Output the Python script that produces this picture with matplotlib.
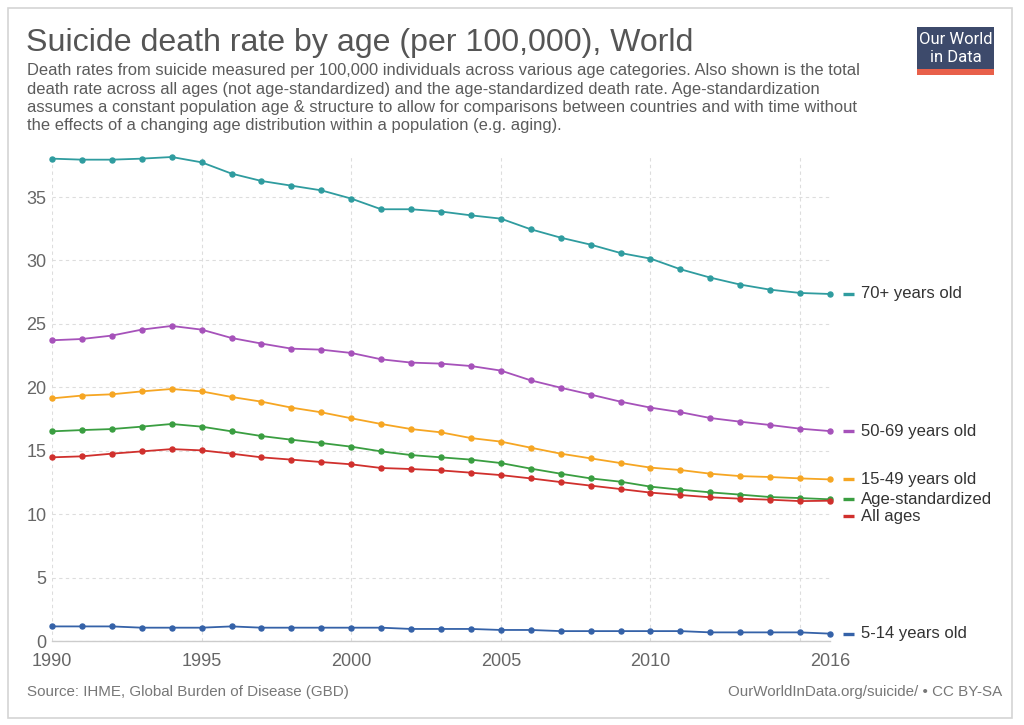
import matplotlib
matplotlib.use("Agg")
import matplotlib.pyplot as plt
from matplotlib.patches import Rectangle
from matplotlib.lines import Line2D

plt.rcParams['font.family'] = ['Liberation Sans', 'DejaVu Sans']

years = list(range(1990, 2017))

age_70_plus = [38.03, 37.95, 37.95, 38.03, 38.16, 37.74, 36.85, 36.27, 35.90, 35.53,
               34.88, 34.04, 34.04, 33.86, 33.56, 33.30, 32.46, 31.80, 31.25, 30.59,
               30.15, 29.31, 28.65, 28.10, 27.70, 27.44, 27.36]
age_50_69 = [23.71, 23.81, 24.08, 24.55, 24.84, 24.55, 23.89, 23.45, 23.05, 22.97,
             22.71, 22.21, 21.95, 21.87, 21.68, 21.32, 20.55, 19.97, 19.43, 18.87,
             18.40, 18.04, 17.58, 17.29, 17.03, 16.74, 16.55]
age_15_49 = [19.13, 19.35, 19.45, 19.68, 19.87, 19.68, 19.24, 18.87, 18.40, 18.03,
             17.56, 17.11, 16.71, 16.45, 16.00, 15.72, 15.24, 14.77, 14.40, 14.03,
             13.67, 13.48, 13.19, 13.00, 12.93, 12.82, 12.74]
age_std = [16.53, 16.63, 16.71, 16.90, 17.11, 16.90, 16.53, 16.16, 15.87, 15.61,
           15.32, 14.95, 14.66, 14.48, 14.30, 14.03, 13.59, 13.19, 12.82, 12.56,
           12.17, 11.93, 11.72, 11.54, 11.35, 11.27, 11.17]
all_ages = [14.48, 14.56, 14.77, 14.95, 15.13, 15.03, 14.77, 14.48, 14.30, 14.11,
            13.93, 13.64, 13.56, 13.45, 13.27, 13.08, 12.82, 12.53, 12.25, 11.98,
            11.70, 11.51, 11.33, 11.22, 11.14, 11.03, 11.06]
age_5_14 = [1.15, 1.15, 1.15, 1.05, 1.05, 1.05, 1.15, 1.05, 1.05, 1.05,
            1.05, 1.05, 0.95, 0.95, 0.95, 0.87, 0.87, 0.78, 0.78, 0.78,
            0.78, 0.78, 0.68, 0.68, 0.68, 0.68, 0.58]

series_names = ["70+ years old", "50-69 years old", "15-49 years old",
                "Age-standardized", "All ages", "5-14 years old"]
series_values = [age_70_plus, age_50_69, age_15_49, age_std, all_ages, age_5_14]
series_colors = ["#2f9c9f", "#a652ba", "#f6a623", "#3a9e41", "#d0302d", "#3562a8"]

x_tick_labels = [1990, 1995, 2000, 2005, 2010, 2016]
x_grid = [1990, 1995, 2000, 2005, 2010, 2015]
y_ticks = [0, 5, 10, 15, 20, 25, 30, 35]

title = "Suicide death rate by age (per 100,000), World"
subtitle_lines = [
    "Death rates from suicide measured per 100,000 individuals across various age categories. Also shown is the total",
    "death rate across all ages (not age-standardized) and the age-standardized death rate. Age-standardization",
    "assumes a constant population age & structure to allow for comparisons between countries and with time without",
    "the effects of a changing age distribution within a population (e.g. aging).",
]
source_text = "Source: IHME, Global Burden of Disease (GBD)"
url_text = "OurWorldInData.org/suicide/ \u2022 CC BY-SA"

W, H = 1024, 725
fig = plt.figure(figsize=(W / 100, H / 100), dpi=100)
fig.patch.set_facecolor("white")

def fx(px):
    return px / W

def fy(py):
    return 1 - py / H

# frame
fig.add_artist(Rectangle((fx(8), fy(718)), fx(1012) - fx(8), fy(8) - fy(718),
                         transform=fig.transFigure, fill=False,
                         edgecolor="#d4d4d4", linewidth=1.2))

ax_l, ax_r, ax_t, ax_b = 52, 830, 157, 641
ax = fig.add_axes([fx(ax_l), fy(ax_b), fx(ax_r) - fx(ax_l), fy(ax_t) - fy(ax_b)])

for name, vals, col in zip(series_names, series_values, series_colors):
    ax.plot(years, vals, color=col, lw=1.3, marker='o', ms=3.6, mec=col, mfc=col,
            zorder=3, clip_on=False, solid_joinstyle='round')

ymax = max(max(v) for v in series_values)
ax.set_xlim(years[0], years[-1])
ax.set_ylim(0, ymax)

ax.xaxis.remove_overlapping_locs = False
ax.set_xticks(x_grid)
ax.set_xticklabels([])
ax.set_xticks(x_tick_labels, minor=True)
ax.set_xticklabels([str(v) for v in x_tick_labels], minor=True)
ax.set_yticks(y_ticks)
ax.set_yticklabels([str(v) for v in y_ticks])

ax.set_axisbelow(True)
ax.xaxis.grid(True, which='major', color='#dddddd', linestyle=(0, (3, 3)), linewidth=0.8)
ax.xaxis.grid(False, which='minor')
ax.yaxis.grid(True, which='major', color='#dddddd', linestyle=(0, (3, 3)), linewidth=0.8)

ax.tick_params(axis='both', which='both', length=0, labelsize=13, labelcolor='#666666')
ax.tick_params(axis='x', which='both', pad=9)
ax.tick_params(axis='y', pad=4)

for s in ['top', 'right', 'left']:
    ax.spines[s].set_visible(False)
ax.spines['bottom'].set_color('#cccccc')
ax.spines['bottom'].set_linewidth(1.0)

# end labels with simple overlap resolution
ends = []
for name, vals, col in zip(series_names, series_values, series_colors):
    disp = ax.transData.transform((years[-1], vals[-1]))
    ends.append([H - disp[1], name, col])
ends.sort(key=lambda e: e[0])
min_gap = 17
for i in range(1, len(ends)):
    if ends[i][0] - ends[i - 1][0] < min_gap:
        ends[i][0] = ends[i - 1][0] + min_gap
for py, name, col in ends:
    fig.add_artist(Line2D([fx(843), fx(854)], [fy(py), fy(py)], transform=fig.transFigure,
                          color=col, lw=2.4, solid_capstyle='butt'))
    fig.text(fx(861), fy(py), name, fontsize=12, color='#333333', va='center', ha='left')

# title and subtitle
fig.text(fx(26), fy(51.5), title, fontsize=23.1, color='#555555', va='baseline', ha='left')
sub_base = [75.5, 93.7, 111.9, 130.1]
for line, b in zip(subtitle_lines, sub_base):
    fig.text(fx(27), fy(b), line, fontsize=11.9, color='#5b5b5b', va='baseline', ha='left')

# footer
fig.text(fx(27), fy(696), source_text, fontsize=10.9, color='#777777', va='baseline', ha='left')
fig.text(fx(1002), fy(696), url_text, fontsize=10.9, color='#777777', va='baseline', ha='right')

# logo
fig.add_artist(Rectangle((fx(917), fy(68.5)), fx(994) - fx(917), fy(27) - fy(68.5),
                         transform=fig.transFigure, facecolor='#3d4a6b', edgecolor='none'))
fig.add_artist(Rectangle((fx(917), fy(75)), fx(994) - fx(917), fy(68.5) - fy(75),
                         transform=fig.transFigure, facecolor='#e8604a', edgecolor='none'))
fig.text(fx(955.5), fy(40), "Our World", fontsize=12, color='white', ha='center', va='center',
         family=['Roboto', 'DejaVu Sans'])
fig.text(fx(955.5), fy(57.5), "in Data", fontsize=12, color='white', ha='center', va='center',
         family=['Roboto', 'DejaVu Sans'])

fig.savefig("out.png", dpi=100, facecolor='white')
